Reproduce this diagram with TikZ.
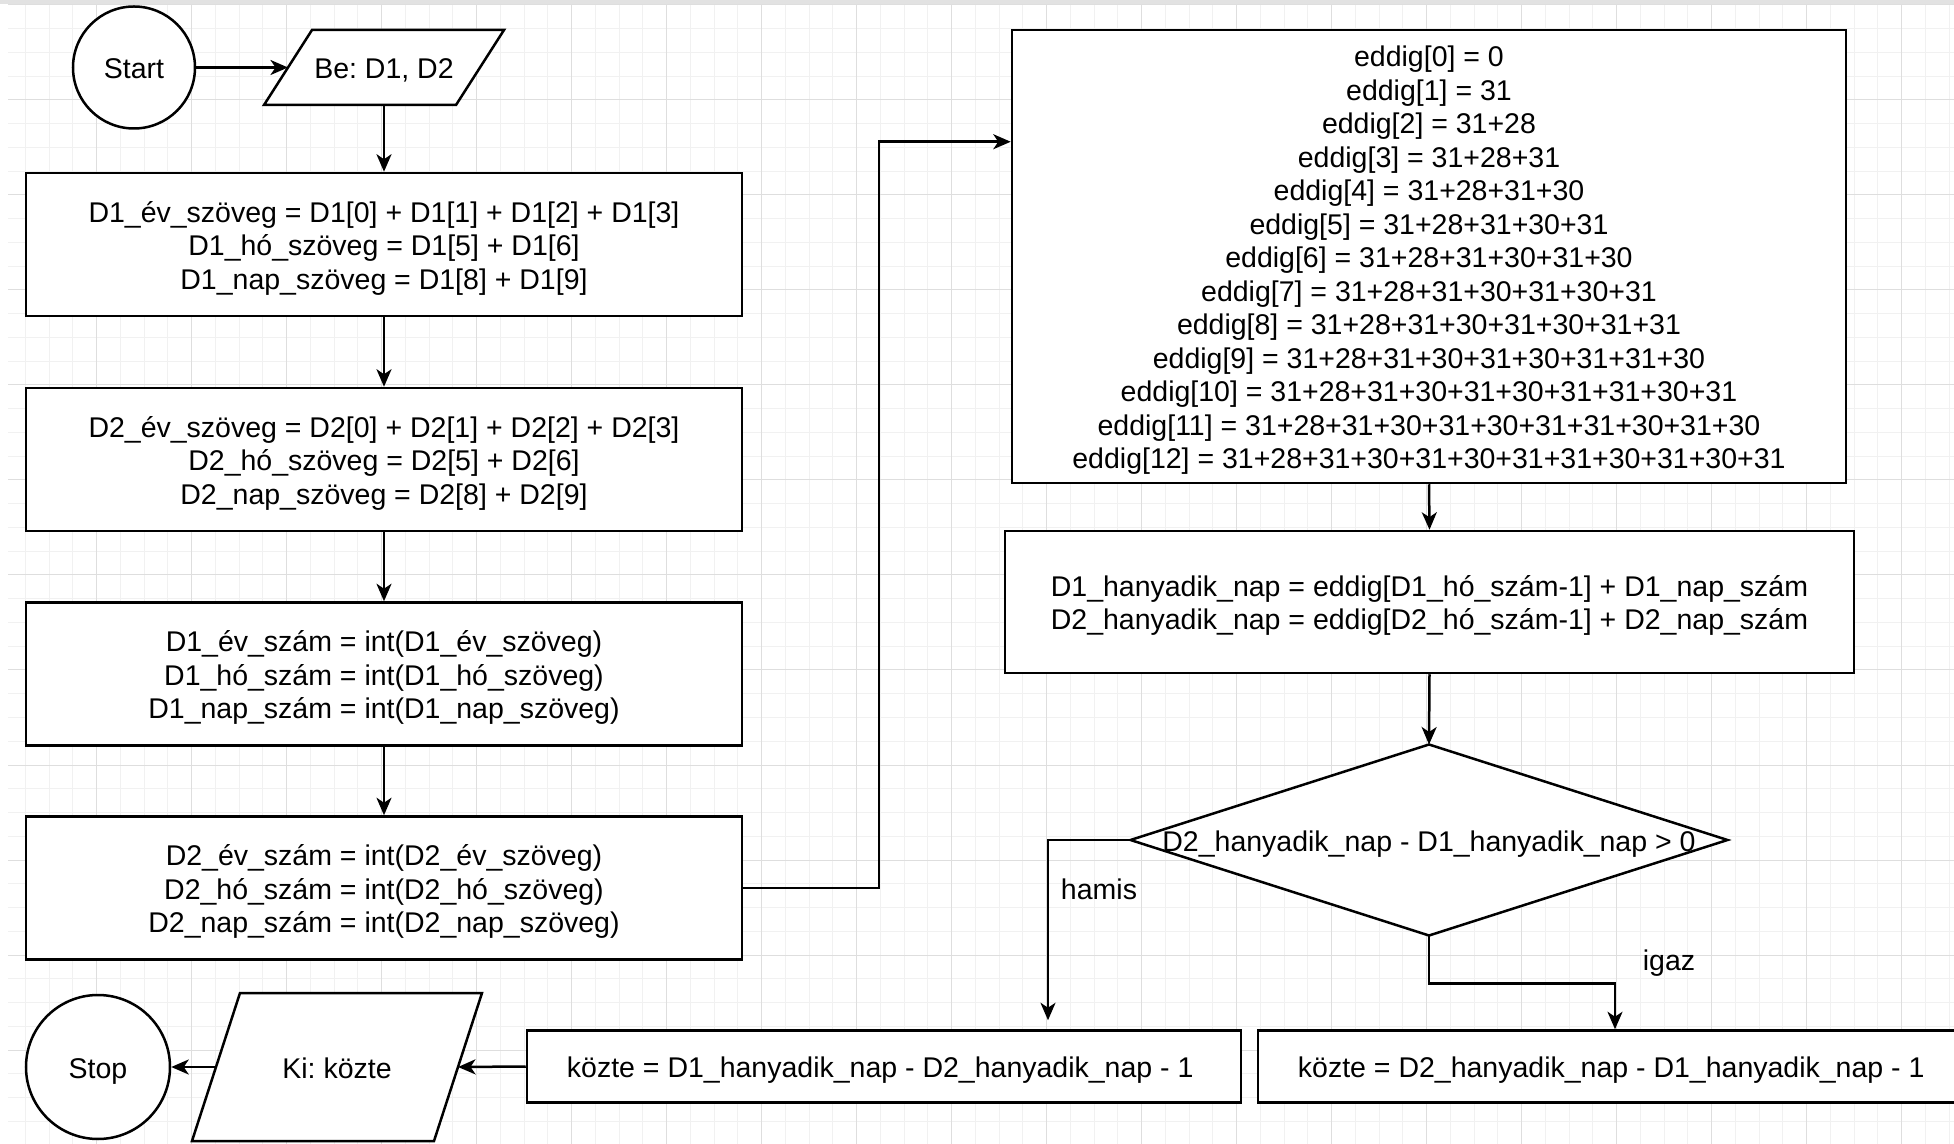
\documentclass[tikz,border=0pt]{standalone}
\usepackage{fontspec}
\setmainfont{Liberation Sans}
\usetikzlibrary{arrows.meta,calc}
\definecolor{minorgrid}{RGB}{241,241,241}
\definecolor{majorgrid}{RGB}{222,222,222}
\definecolor{topband}{RGB}{226,226,226}
\pgfdeclarelayer{bg}
\pgfdeclarelayer{shapes}
\pgfsetlayers{bg,shapes,main}
\newcommand{\mystrut}{\rule[-2.2pt]{0pt}{13.4pt}}
\begin{document}
\frenchspacing
\begin{tikzpicture}[x=0.4pt,y=-0.4pt,
  every node/.style={font=\fontsize{11.4}{13.4}\selectfont\frenchspacing, text=black},
  proc/.style={draw, line width=1pt, fill=white, rectangle, inner sep=0pt, align=center},
  ioshape/.style={rectangle, inner sep=0pt, align=center},
  term/.style={draw, line width=1pt, fill=white, circle, inner sep=0pt},
  conn/.style={line width=1pt, -{Stealth[length=7pt,width=6pt,inset=2pt]}},
  shapeline/.style={draw, line width=1pt, fill=white}]
\useasboundingbox (0,0) rectangle (1954,1144);
\begin{pgfonlayer}{bg}
  \fill[white] (0,0) rectangle (1954,1144);
  \foreach \i in {1,...,82} \draw[minorgrid, line width=0.4pt] ({1.7+23.75*\i},4) -- ({1.7+23.75*\i},1144);
  \foreach \j in {0,...,47} \draw[minorgrid, line width=0.4pt] (8,{5+23.75*\j}) -- (1954,{5+23.75*\j});
  \foreach \i in {1,...,20} \draw[majorgrid, line width=0.4pt] ({1.7+95*\i},4) -- ({1.7+95*\i},1144);
  \foreach \j in {0,...,11} \draw[majorgrid, line width=0.4pt] (8,{5+95*\j}) -- (1954,{5+95*\j});
  \fill[topband] (0,0) rectangle (1954,4);
\end{pgfonlayer}

% nodes
\node[term, minimum size=48.8pt] (start) at (134,67.5) {\mystrut Start};
\node[ioshape, minimum width=76.4pt, minimum height=29.6pt] (be) at (384,67.5) {\mystrut Be: D1, D2};

\node[proc, minimum width=286.4pt, minimum height=57.2pt] (b1) at (384,244.5)
  {\mystrut D1\_év\_szöveg = D1[0] + D1[1] + D1[2] + D1[3]\\ D1\_hó\_szöveg = D1[5] + D1[6]\\ D1\_nap\_szöveg = D1[8] + D1[9]};
\node[proc, minimum width=286.4pt, minimum height=57.2pt] (b2) at (384,459.5)
  {\mystrut D2\_év\_szöveg = D2[0] + D2[1] + D2[2] + D2[3]\\ D2\_hó\_szöveg = D2[5] + D2[6]\\ D2\_nap\_szöveg = D2[8] + D2[9]};
\node[proc, minimum width=286.4pt, minimum height=57.2pt] (b3) at (384,674)
  {\mystrut D1\_év\_szám = int(D1\_év\_szöveg)\\ D1\_hó\_szám = int(D1\_hó\_szöveg)\\ D1\_nap\_szám = int(D1\_nap\_szöveg)};
\node[proc, minimum width=286.4pt, minimum height=57.2pt] (b4) at (384,888)
  {\mystrut D2\_év\_szám = int(D2\_év\_szöveg)\\ D2\_hó\_szám = int(D2\_hó\_szöveg)\\ D2\_nap\_szám = int(D2\_nap\_szöveg)};

\node[proc, minimum width=333.6pt, minimum height=181.2pt] (eddig) at (1429,256.5)
  {\mystrut eddig[0] = 0\\ eddig[1] = 31\\ eddig[2] = 31+28\\ eddig[3] = 31+28+31\\ eddig[4] = 31+28+31+30\\
   eddig[5] = 31+28+31+30+31\\ eddig[6] = 31+28+31+30+31+30\\ eddig[7] = 31+28+31+30+31+30+31\\
   eddig[8] = 31+28+31+30+31+30+31+31\\ eddig[9] = 31+28+31+30+31+30+31+31+30\\
   eddig[10] = 31+28+31+30+31+30+31+31+30+31\\ eddig[11] = 31+28+31+30+31+30+31+31+30+31+30\\
   eddig[12] = 31+28+31+30+31+30+31+31+30+31+30+31};

\node[proc, minimum width=339.6pt, minimum height=56.8pt] (hany) at (1429.5,602)
  {\mystrut D1\_hanyadik\_nap = eddig[D1\_hó\_szám-1] + D1\_nap\_szám\\ D2\_hanyadik\_nap = eddig[D2\_hó\_szám-1] + D2\_nap\_szám};

\node[ioshape, minimum width=238.4pt, minimum height=76pt] (dec) at (1429,840)
  {\mystrut D2\_hanyadik\_nap - D1\_hanyadik\_nap > 0};

\node[proc, minimum width=285.6pt, minimum height=28.8pt] (k1) at (884,1066.5)
  {\mystrut közte = D1\_hanyadik\_nap - D2\_hanyadik\_nap - 1\hspace{3pt}};
\node[proc, minimum width=285.6pt, minimum height=28.8pt] (k2) at (1615,1066.5)
  {\mystrut közte = D2\_hanyadik\_nap - D1\_hanyadik\_nap - 1\hspace{3pt}};

\node[ioshape, minimum width=96.4pt, minimum height=58.8pt] (ki) at (337,1067) {\mystrut Ki: közte};
\node[term, minimum size=57.6pt] (stop) at (98,1067) {\mystrut Stop};

\node (lhamis) at (1099,889) {hamis};
\node (ligaz) at (1669,963) {igaz};

% parallelograms and diamond
\begin{pgfonlayer}{shapes}
  \path[shapeline] ($(be.south west)+(-24,0)$) -- ($(be.south east)+(-24,0)$)
     -- ($(be.north east)+(24,0)$) -- ($(be.north west)+(24,0)$) -- cycle;
  \path[shapeline] ($(ki.south west)+(-24,0)$) -- ($(ki.south east)+(-24,0)$)
     -- ($(ki.north east)+(24,0)$) -- ($(ki.north west)+(24,0)$) -- cycle;
  \path[shapeline] (dec.north) -- (dec.east) -- (dec.south) -- (dec.west) -- cycle;
\end{pgfonlayer}

% connectors
\draw[conn] (start) -- (be.west);
\draw[conn] (be.south) -- (b1.north);
\draw[conn] (b1.south) -- (b2.north);
\draw[conn] (b2.south) -- (b3.north);
\draw[conn] (b3.south) -- (b4.north);
\draw[conn] (b4.east) -- ++(135.5,0) |- ($(eddig.north west)+(0,113)$);
\draw[conn] (eddig.south) -- (hany.north);
\draw[conn] (hany.south) -- (dec.north);
\draw[conn] (dec.west) -| ($(k1.north)+(164,-9)$);
\draw[conn] (dec.south) -- ++(0,48) -| (k2.north);
\draw[conn] (k1.west) -- (ki.east);
\draw[conn] (ki.west) -- (stop);
\end{tikzpicture}
\end{document}
